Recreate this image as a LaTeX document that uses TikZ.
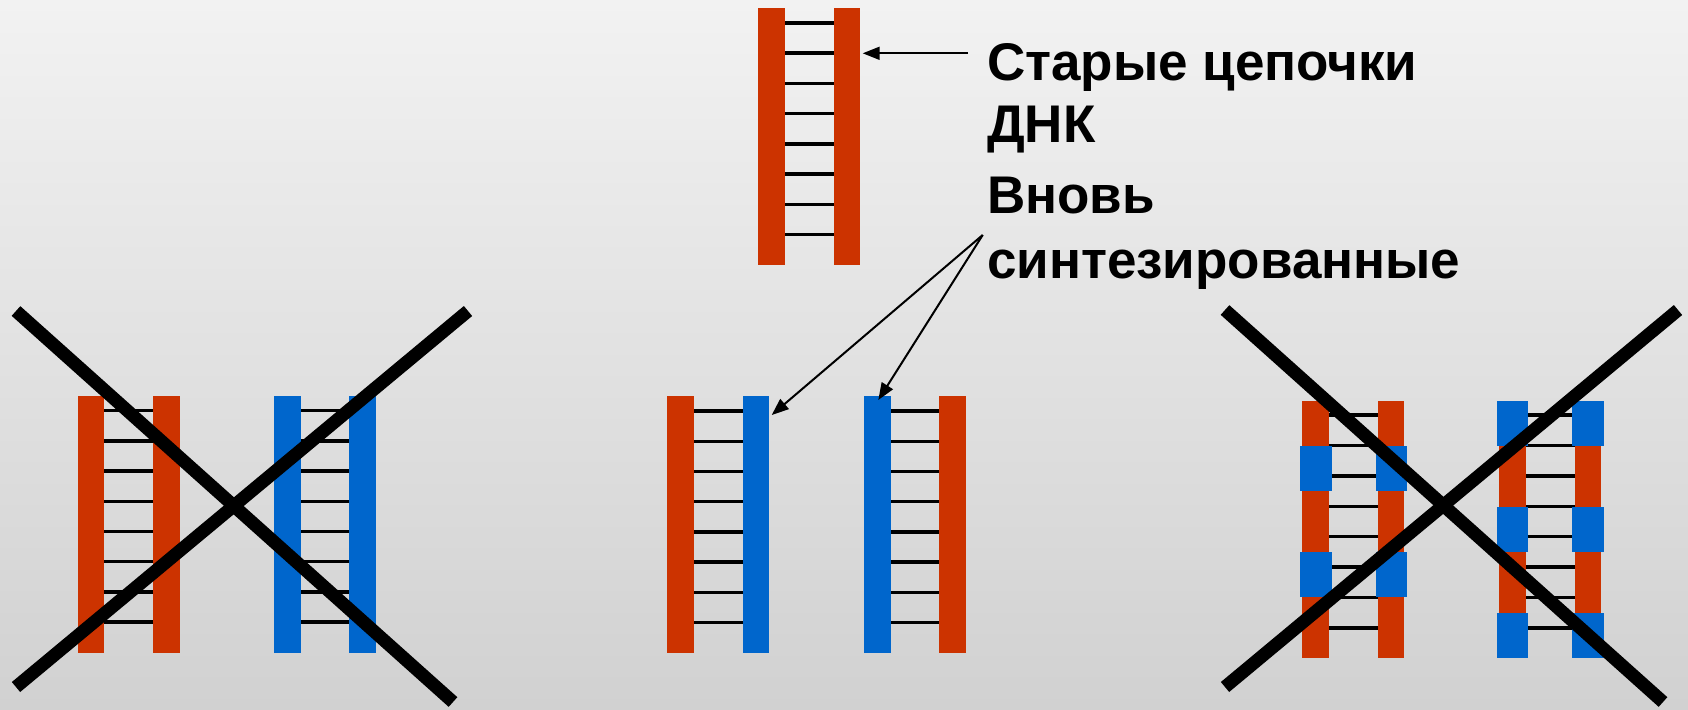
\documentclass[tikz,border=0pt]{standalone}
\usepackage{fontspec}
\setmainfont{Liberation Sans}
\usetikzlibrary{arrows.meta}
\definecolor{dnared}{RGB}{204,51,0}
\definecolor{dnablue}{RGB}{0,102,204}
\definecolor{bgtop}{RGB}{242,242,242}
\definecolor{bgbot}{RGB}{209,209,209}
\begin{document}
\begin{tikzpicture}[x=1pt,y=-1pt,
  strandbox/.style={rectangle, inner sep=0pt, outer sep=0pt, draw=none, anchor=north west},
  rung/.style={line width=3.4pt, black},
  crossline/.style={line width=13pt, black, line cap=butt},
  lbl/.style={font=\bfseries\fontsize{53}{60}\selectfont, anchor=base west, inner sep=0pt, outer sep=0pt},
  ptr/.style={line width=2pt, black, -{Triangle[length=17pt,width=13pt]}}]
\useasboundingbox (0,0) rectangle (1688,709);
\shade[top color=bgtop, bottom color=bgbot] (0,0) rectangle (1688,709);

% ---------- top ladder (old strands) ----------
\foreach \k in {0,...,7} \draw[rung] (785,23+30.2*\k) -- (834,23+30.2*\k);
\node[strandbox, fill=dnared, minimum width=27pt, minimum height=257pt] (tA) at (758,8) {};
\node[strandbox, fill=dnared, minimum width=26.6pt, minimum height=257pt] (tB) at (833.7,8) {};

% ---------- left group ----------
\foreach \k in {0,...,7} {
  \draw[rung] (104,410.7+30.2*\k) -- (153.5,410.7+30.2*\k);
  \draw[rung] (300.5,410.7+30.2*\k) -- (349.5,410.7+30.2*\k);
}
\node[strandbox, fill=dnared, minimum width=26.7pt, minimum height=256.7pt] (lA) at (77.7,396) {};
\node[strandbox, fill=dnared, minimum width=26.7pt, minimum height=256.7pt] (lB) at (153,396) {};
\node[strandbox, fill=dnablue, minimum width=27pt, minimum height=256.7pt] (lC) at (274,396) {};
\node[strandbox, fill=dnablue, minimum width=27pt, minimum height=256.7pt] (lD) at (349.3,396) {};

% ---------- middle group ----------
\foreach \k in {0,...,7} {
  \draw[rung] (693.5,411+30.2*\k) -- (743,411+30.2*\k);
  \draw[rung] (890.5,411+30.2*\k) -- (939.5,411+30.2*\k);
}
\node[strandbox, fill=dnared, minimum width=26.7pt, minimum height=256.7pt] (mA) at (667.3,396) {};
\node[strandbox, fill=dnablue, minimum width=26.6pt, minimum height=256.7pt] (mB) at (742.7,396) {};
\node[strandbox, fill=dnablue, minimum width=26.7pt, minimum height=256.7pt] (mC) at (864,396) {};
\node[strandbox, fill=dnared, minimum width=26.7pt, minimum height=256.7pt] (mD) at (939.3,396) {};

% ---------- right group ----------
\foreach \k in {0,...,7} {
  \draw[rung] (1328.5,415+30.4*\k) -- (1378,415+30.4*\k);
  \draw[rung] (1525.5,415+30.4*\k) -- (1575,415+30.4*\k);
}
\node[strandbox, fill=dnared, minimum width=26.7pt, minimum height=256.7pt] (rA) at (1302.3,401) {};
\node[strandbox, fill=dnared, minimum width=26.6pt, minimum height=256.7pt] (rB) at (1377.7,401) {};
\node[strandbox, fill=dnared, minimum width=26.7pt, minimum height=256.7pt] (rC) at (1499,401) {};
\node[strandbox, fill=dnared, minimum width=26.3pt, minimum height=256.7pt] (rD) at (1574.7,401) {};
\foreach \y in {446,552.3} {
  \node[strandbox, fill=dnablue, minimum width=31.7pt, minimum height=45pt] at (1300,\y) {};
  \node[strandbox, fill=dnablue, minimum width=31.3pt, minimum height=45pt] at (1375.7,\y) {};
}
\foreach \y in {401,506.7,612.7} {
  \node[strandbox, fill=dnablue, minimum width=31.6pt, minimum height=45pt] at (1496.7,\y) {};
  \node[strandbox, fill=dnablue, minimum width=31.4pt, minimum height=45pt] at (1572.3,\y) {};
}

% ---------- crosses ----------
\coordinate (x1a) at (16,311);   \coordinate (x1b) at (453,702);
\coordinate (x2a) at (468,311);  \coordinate (x2b) at (16,687);
\draw[crossline] (x1a) -- (x1b);
\draw[crossline] (x2a) -- (x2b);
\coordinate (x3a) at (1225,310); \coordinate (x3b) at (1663,702);
\coordinate (x4a) at (1678,310); \coordinate (x4b) at (1225,687);
\draw[crossline] (x3a) -- (x3b);
\draw[crossline] (x4a) -- (x4b);

% ---------- labels ----------
\node[lbl] (old1) at (987,80) {Старые цепочки};
\node[lbl] (old2) at (987,142) {ДНК};
\node[lbl] (new1) at (987,213) {Вновь};
\node[lbl] (new2) at (987,278) {синтезированные};

% ---------- pointers ----------
\coordinate (oldfrom) at (968,53.3);
\coordinate (oldto) at (862.7,53.3);
\draw[ptr] (oldfrom) -- (oldto);
\coordinate (newfrom) at (982.7,235);
\coordinate (newtoA) at (771.7,415);
\coordinate (newtoB) at (878.3,400);
\draw[ptr] (newfrom) -- (newtoA);
\draw[ptr] (newfrom) -- (newtoB);
\end{tikzpicture}
\end{document}
